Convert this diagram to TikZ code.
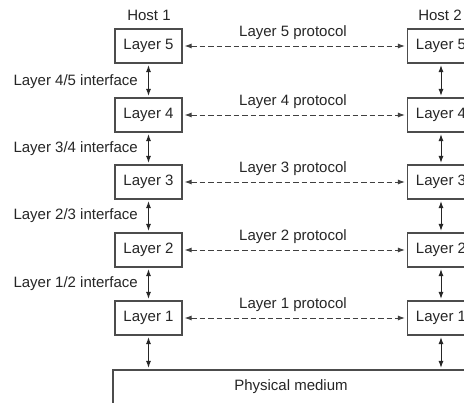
\documentclass[tikz,border=0pt]{standalone}
\usepackage{fontspec}
\setmainfont{Liberation Sans}
\usetikzlibrary{arrows.meta}
\begin{document}
\begin{tikzpicture}[x=1pt,y=-1pt,
  every node/.style={font=\fontsize{15}{17}\selectfont, text=black!85},
  layerbox/.style={draw=black!70, line width=1.2pt, fill=white, minimum width=67pt, minimum height=34pt, inner sep=0pt},
  lbl/.style={inner sep=0pt},
  vert/.style={draw=black!85, line width=1pt, {Latex[length=7pt,width=5pt]}-{Latex[length=7pt,width=5pt]}, shorten <=1.5pt, shorten >=1.5pt},
  proto/.style={draw=black!75, line width=0.9pt, dash pattern=on 5.5pt off 3pt, {Latex[length=7pt,width=5pt]}-{Latex[length=7pt,width=5pt]}, shorten <=2pt, shorten >=2pt}
]
\useasboundingbox (0,0) rectangle (464,403);
\clip (0,0) rectangle (464,403);
\fill[white] (0,0) rectangle (464,403);

\node[lbl] (h1) at (149,15) {Host 1};
\node[lbl] (h2) at (440,15) {Host 2};

\foreach \n/\y in {5/46,4/115,3/182,2/250,1/318}{
  \node[layerbox] (a\n) at (148.5,\y) {Layer \n};
  \node[layerbox] (b\n) at (441,\y) {Layer \n};
  \draw[proto] (a\n) -- (b\n);
  \node[lbl] (p\n) at (293,{\y-13}) {Layer \n\ protocol};
}

\node[draw=black!70, line width=1.2pt, minimum width=364pt, minimum height=40pt, inner sep=0pt] (phys) at (295,390) {};
\node[lbl] (physt) at (291,387) {Physical medium};

\foreach \u/\l in {5/4,4/3,3/2,2/1}{
  \draw[vert] (a\u) -- (a\l);
  \draw[vert] (b\u) -- (b\l);
}
\draw[vert] (a1.south) -- (a1.south |- phys.north);
\draw[vert] (b1.south) -- (b1.south |- phys.north);

\node[lbl, anchor=east] (i45) at (138,81.5) {Layer 4/5 interface};
\node[lbl, anchor=east] (i34) at (138,148.5) {Layer 3/4 interface};
\node[lbl, anchor=east] (i23) at (138,216) {Layer 2/3 interface};
\node[lbl, anchor=east] (i12) at (138,283.5) {Layer 1/2 interface};
\end{tikzpicture}
\end{document}
